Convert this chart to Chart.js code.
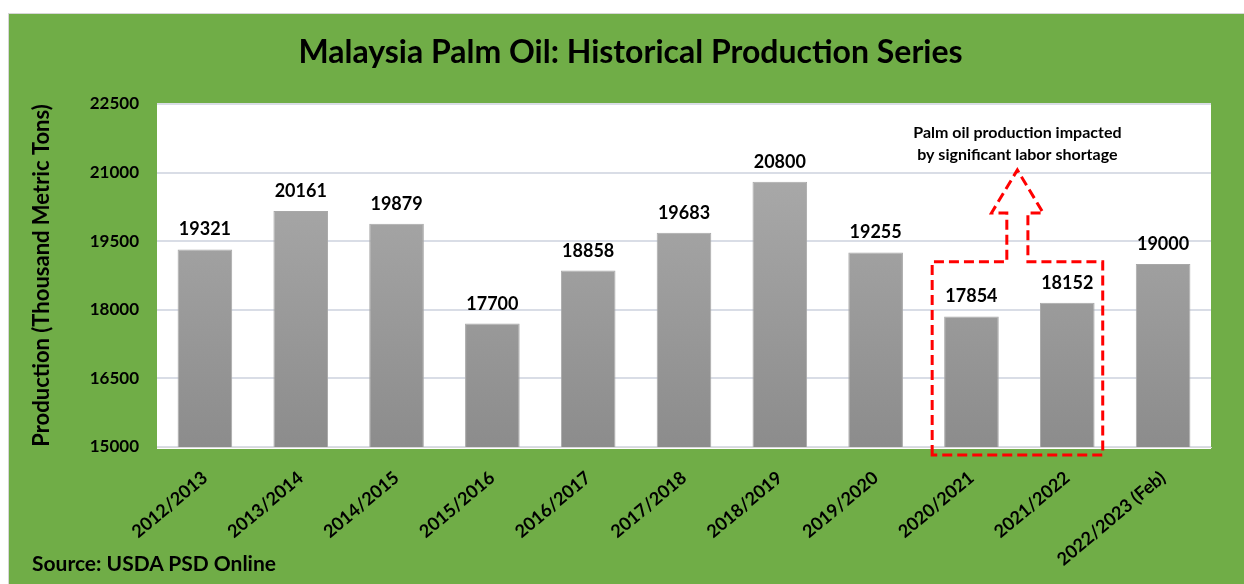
<!DOCTYPE html>
<html>
<head>
<meta charset="utf-8">
<title>Malaysia Palm Oil: Historical Production Series</title>
<script src="https://cdn.jsdelivr.net/npm/chart.js@4.4.1/dist/chart.umd.min.js"></script>
<style>
  html, body { margin: 0; padding: 0; background: #fff; }
  #panel {
    position: absolute; left: 8px; top: 13px; width: 1236px; height: 571px;
    background: #70AD47; border-left: 1px solid #d6d6d6; border-top: 1px solid #d6d6d6;
  }
  #chart-box { position: absolute; left: 0; top: 0; width: 1235px; height: 570px; }
  #source {
    position: absolute; left: 23px; top: 536px;
    font: bold 21px Lato, 'Open Sans', sans-serif; color: #000;
  }
</style>
</head>
<body>
<div id="panel">
  <div id="chart-box"><canvas id="palmChart"></canvas></div>
  <div id="source">Source: USDA PSD Online</div>
</div>
<script>
// ---- data ----
const chartTitle = 'Malaysia Palm Oil: Historical Production Series';
const seasons = ['2012/2013', '2013/2014', '2014/2015', '2015/2016', '2016/2017',
  '2017/2018', '2018/2019', '2019/2020', '2020/2021', '2021/2022', '2022/2023 (Feb)'];
const production = [19321, 20161, 19879, 17700, 18858, 19683, 20800, 19255, 17854, 18152, 19000];
const yTicks = [15000, 16500, 18000, 19500, 21000, 22500];

const noteLines = ['Palm oil production impacted', 'by significant labor shortage'];
const highlightFrom = 8;   // 2020/2021
const highlightTo = 9;     // 2021/2022

const FONT = "Lato, 'Open Sans', sans-serif";

// white plot area behind the bars, plus the title (Excel centres it a bit right of the canvas middle)
const plotBackground = {
  id: 'plotBackground',
  beforeDraw(chart) {
    const { ctx, chartArea: a, width } = chart;
    ctx.save();
    ctx.fillStyle = '#ffffff';
    ctx.fillRect(a.left, a.top, a.right - a.left, a.bottom - a.top + 2);
    ctx.font = `bold 32px ${FONT}`;
    ctx.fillStyle = '#000';
    ctx.textAlign = 'center';
    ctx.textBaseline = 'alphabetic';
    ctx.fillText(chartTitle, width / 2 + 4, 49);
    ctx.restore();
  }
};

// value labels above each bar
const valueLabels = {
  id: 'valueLabels',
  afterDatasetsDraw(chart) {
    const { ctx } = chart;
    const meta = chart.getDatasetMeta(0);
    ctx.save();
    ctx.font = `bold 18px ${FONT}`;
    ctx.fillStyle = '#000';
    ctx.textAlign = 'center';
    ctx.textBaseline = 'alphabetic';
    meta.data.forEach((bar, i) => {
      ctx.fillText(String(production[i]), bar.x, bar.y - 14);
    });
    ctx.restore();
  }
};

// red dashed box + arrow + note
const laborNote = {
  id: 'laborNote',
  afterDatasetsDraw(chart) {
    const { ctx, chartArea: a, scales: { x, y } } = chart;
    const w = x.getPixelForValue(1) - x.getPixelForValue(0);
    const x0 = x.getPixelForValue(highlightFrom);
    const x1 = x.getPixelForValue(highlightTo);
    const left = x0 - 0.41 * w;
    const right = x1 + 0.37 * w;
    const top = y.getPixelForValue(19050);
    const bottom = a.bottom + 8;
    const cx = (x0 + x1) / 2 - 2;
    const shaftHalf = 0.11 * w;
    const headHalf = 0.27 * w;
    const shaftTop = y.getPixelForValue(20117);
    const tip = y.getPixelForValue(21057);

    ctx.save();
    ctx.strokeStyle = '#ff0000';
    ctx.lineWidth = 3;
    ctx.setLineDash([10, 5]);
    ctx.beginPath();
    ctx.moveTo(left, bottom);
    ctx.lineTo(left, top);
    ctx.lineTo(cx - shaftHalf, top);
    ctx.lineTo(cx - shaftHalf, shaftTop);
    ctx.lineTo(cx - headHalf, shaftTop);
    ctx.lineTo(cx, tip);
    ctx.lineTo(cx + headHalf, shaftTop);
    ctx.lineTo(cx + shaftHalf, shaftTop);
    ctx.lineTo(cx + shaftHalf, top);
    ctx.lineTo(right, top);
    ctx.lineTo(right, bottom);
    ctx.closePath();
    ctx.stroke();

    ctx.setLineDash([]);
    ctx.font = `bold 16px ${FONT}`;
    ctx.fillStyle = '#000';
    ctx.textAlign = 'center';
    ctx.fillText(noteLines[0], cx, tip - 32);
    ctx.fillText(noteLines[1], cx, tip - 10);
    ctx.restore();
  }
};

function barGradient(context) {
  const { chart } = context;
  const a = chart.chartArea;
  if (!a) return '#9a9a9a';
  const g = chart.ctx.createLinearGradient(0, a.top, 0, a.bottom);
  g.addColorStop(0, '#b0b0b0');
  g.addColorStop(1, '#8c8c8c');
  return g;
}

const ctx = document.getElementById('palmChart').getContext('2d');
new Chart(ctx, {
  type: 'bar',
  data: {
    labels: seasons,
    datasets: [{
      label: 'Production',
      data: production,
      backgroundColor: barGradient,
      borderColor: '#a8a8a8',
      borderWidth: 1,
      categoryPercentage: 1,
      barPercentage: 0.57
    }]
  },
  options: {
    responsive: true,
    maintainAspectRatio: false,
    animation: false,
    layout: { padding: { left: 0, right: 33, top: 90, bottom: 0 } },
    plugins: {
      legend: { display: false },
      tooltip: { enabled: false },
      title: { display: false }
    },
    scales: {
      x: {
        grid: { display: false, drawTicks: false },
        border: { display: true, color: '#d9d9d9', width: 1 },
        ticks: {
          color: '#000',
          font: { family: FONT, size: 18, weight: 'bold' },
          minRotation: 40,
          maxRotation: 40,
          padding: 20,
          autoSkip: false
        },
        afterFit(scale) { scale.height = 137; }
      },
      y: {
        min: 15000,
        max: 22500,
        afterBuildTicks(scale) { scale.ticks = yTicks.map(v => ({ value: v })); },
        grid: { color: '#d9dde6', lineWidth: 2, drawTicks: false },
        border: { display: false },
        ticks: {
          color: '#000',
          font: { family: FONT, size: 17, weight: 'bold' },
          padding: 18,
          callback: v => String(v)
        },
        title: {
          display: true,
          text: 'Production (Thousand Metric Tons)',
          color: '#000',
          font: { family: FONT, size: 22, weight: 'bold' },
          padding: { top: 20, bottom: 0 }
        },
        afterFit(scale) { scale.width = 148; }
      }
    }
  },
  plugins: [plotBackground, valueLabels, laborNote]
});
</script>
</body>
</html>
